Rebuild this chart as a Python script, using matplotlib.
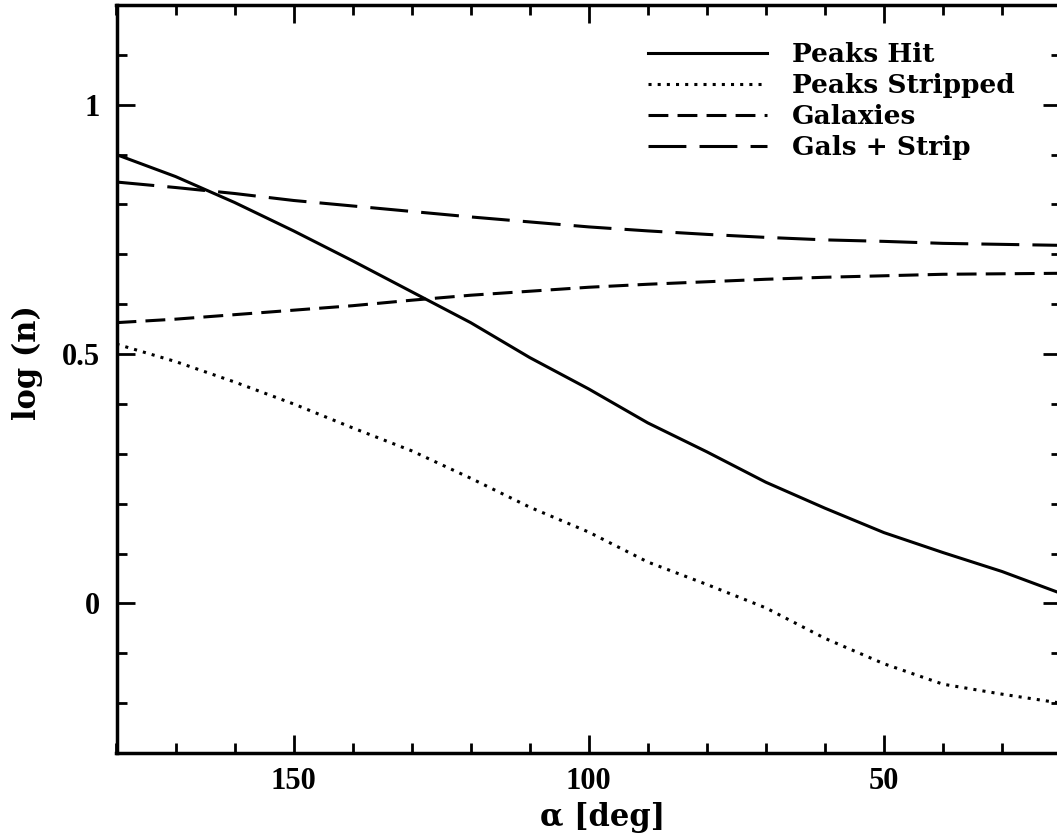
import matplotlib
matplotlib.use('Agg')
import matplotlib.pyplot as plt
from matplotlib.ticker import MultipleLocator, FixedLocator, FixedFormatter
from matplotlib.font_manager import FontProperties

# ---- data ----
alpha_deg = [180, 170, 160, 150, 140, 130, 120, 110, 100, 90, 80, 70, 60, 50, 40, 30, 20]
peaks_hit = [0.900, 0.856, 0.804, 0.747, 0.687, 0.625, 0.563, 0.493, 0.430, 0.362,
             0.304, 0.243, 0.191, 0.142, 0.102, 0.064, 0.020]
peaks_stripped = [0.520, 0.485, 0.444, 0.400, 0.352, 0.306, 0.251, 0.193, 0.143, 0.083,
                  0.038, -0.009, -0.070, -0.121, -0.162, -0.182, -0.200]
galaxies = [0.563, 0.570, 0.579, 0.588, 0.597, 0.608, 0.618, 0.626, 0.634, 0.640,
            0.645, 0.650, 0.654, 0.657, 0.660, 0.661, 0.662]
gals_strip = [0.845, 0.834, 0.822, 0.808, 0.797, 0.786, 0.775, 0.765, 0.755, 0.747,
              0.740, 0.734, 0.729, 0.726, 0.722, 0.720, 0.718]

series_labels = ["Peaks Hit", "Peaks Stripped", "Galaxies", "Gals + Strip"]
ytick_values = [0, 0.5, 1]
ytick_labels = ["0", "0.5", "1"]
xtick_values = [150, 100, 50]
xtick_labels = ["150", "100", "50"]

# ---- figure ----
W, H = 1057, 838
fig = plt.figure(figsize=(W / 100, H / 100), dpi=100)
left_px, right_px, top_px, bottom_px = 116.5, 1061, 5, 753
ax = fig.add_axes([left_px / W, 1 - bottom_px / H,
                   (right_px - left_px) / W, (bottom_px - top_px) / H])

lw = 2.2
ax.plot(alpha_deg, peaks_hit, color='black', lw=lw, linestyle='-', label=series_labels[0])
ax.plot(alpha_deg, peaks_stripped, color='black', lw=lw, linestyle=(0, (1, 2.0)),
        label=series_labels[1])
ax.plot(alpha_deg, galaxies, color='black', lw=lw, linestyle=(0, (6.5, 3.0)),
        label=series_labels[2])
ax.plot(alpha_deg, gals_strip, color='black', lw=lw, linestyle=(0, (12.4, 4.3)),
        label=series_labels[3])

ax.set_xlim(180, 20)
ax.set_ylim(-0.3, 1.2)

for s in ax.spines.values():
    s.set_linewidth(2.5)

ax.xaxis.set_major_locator(FixedLocator(xtick_values))
ax.xaxis.set_major_formatter(FixedFormatter(xtick_labels))
ax.xaxis.set_minor_locator(MultipleLocator(10))
ax.yaxis.set_major_locator(FixedLocator(ytick_values))
ax.yaxis.set_major_formatter(FixedFormatter(ytick_labels))
ax.yaxis.set_minor_locator(MultipleLocator(0.1))

ax.tick_params(which='both', direction='in', top=True, right=True, width=2.0, color='black')
ax.tick_params(which='major', length=13)
ax.tick_params(which='minor', length=7)
ax.tick_params(axis='x', which='major', pad=10)
ax.tick_params(axis='y', which='major', pad=12)

tick_font = FontProperties(family='Liberation Serif', weight='bold', size=22)
for lab in ax.get_xticklabels() + ax.get_yticklabels():
    lab.set_fontproperties(tick_font)

label_font = FontProperties(family='DejaVu Serif', weight='bold', size=22)
ax.set_xlabel("α [deg]", fontproperties=label_font)
ax.set_ylabel("log (n)", fontproperties=label_font)
ax.xaxis.set_label_coords((603 - left_px) / (right_px - left_px), -0.066)
ax.yaxis.set_label_coords((43 - left_px) / (right_px - left_px),
                          (bottom_px - 363) / (bottom_px - top_px))

legend_font = FontProperties(family='DejaVu Serif', weight='bold', size=19)
ax.legend(loc='upper left', bbox_to_anchor=(648 / W, 1 - 42 / H),
          bbox_transform=fig.transFigure, frameon=False, borderpad=0,
          borderaxespad=0, handlelength=4.5, handletextpad=0.95,
          labelspacing=0.23, prop=legend_font)

fig.savefig('out.png', dpi=100)
